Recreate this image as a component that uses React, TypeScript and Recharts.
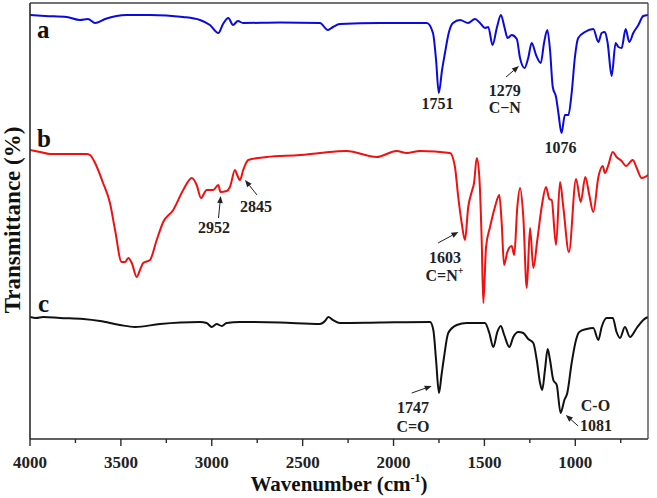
import React from 'react';
import { LineChart, Line, XAxis, YAxis, ReferenceDot, ReferenceLine } from 'recharts';

// wavenumber (cm-1), offset transmittance (arbitrary units)
const seriesA: [number, number][] = [
  [4000,424],[3917,423],[3798,422],[3725,419],[3681,420],[3642,416],[3587,420],[3468,424],[3340,424],[3158,422],[3065,419],[3010,414],[2964,406],[2938,415],[2909,421],[2883,414],[2856,418],[2828,416],[2625,416.5],[2405,416],[2361,409],[2333,412],[2295,415],[2074,416],[1817,416],[1783,406],[1766,379],[1751,346],[1733,369],[1717,386],[1695,407],[1673,416],[1634,419],[1590,416],[1552,420],[1524,416],[1497,411],[1479,412],[1455,394],[1432,411],[1409,424],[1390,412],[1372,401],[1350,404],[1322,400],[1304,381],[1279,371],[1259,381],[1240,396],[1216,384],[1190,376],[1172,396],[1154,409],[1139,389],[1124,352],[1106,342],[1093,326],[1076,306],[1057,324],[1038,324],[1020,346],[1002,382],[984,401],[947,407],[901,410],[873,397],[855,406],[837,407],[822,396],[800,363],[778,396],[763,392],[745,391],[723,410],[703,397],[681,406],[653,414],[626,423],[600,424]
];
const seriesB: [number, number][] = [
  [4000,289],[3945,287],[3890,285],[3780,285],[3688,285],[3670,284],[3642,276],[3598,256],[3560,236],[3532,209],[3496,177],[3477,177],[3459,181],[3440,176],[3413,162],[3395,169],[3377,176],[3340,179],[3303,199],[3267,217],[3212,229],[3157,249],[3110,261],[3083,254],[3059,241],[3028,249],[2992,249],[2964,254],[2952,247],[2918,248],[2900,252],[2872,269],[2860,264],[2845,259],[2827,269],[2799,279],[2698,282],[2515,284],[2405,286],[2258,288],[2093,282],[1983,288],[1928,286],[1855,288],[1689,286],[1662,272],[1644,242],[1625,216],[1607,199],[1589,232],[1570,247],[1557,256],[1542,281],[1528,262],[1515,199],[1506,136],[1491,192],[1469,212],[1442,232],[1418,244],[1405,216],[1392,174],[1374,187],[1350,193],[1336,184],[1319,232],[1304,251],[1286,222],[1267,151],[1249,211],[1231,171],[1209,199],[1185,232],[1161,252],[1143,240],[1130,239],[1106,194],[1084,257],[1066,232],[1035,187],[996,260],[970,237],[945,262],[923,244],[901,227],[873,262],[849,273],[837,266],[818,274],[794,287],[773,282],[745,278],[721,273],[684,279],[662,271],[635,261],[607,263],[600,264]
];
const seriesC: [number, number][] = [
  [4000,122],[3967,121],[3927,122],[3835,121],[3707,120],[3615,118],[3505,114],[3422,112],[3285,115],[3065,117],[3028,116],[3000,112],[2973,115],[2945,113],[2918,116],[2845,117],[2625,116.5],[2405,115],[2377,118],[2359,122],[2333,119],[2295,116],[2074,116.5],[1799,117],[1781,109],[1766,79],[1750,46],[1736,64],[1722,82],[1699,106],[1652,114],[1597,116],[1497,116],[1473,106],[1451,92],[1429,107],[1410,113],[1391,104],[1363,92],[1341,102],[1313,107],[1286,106],[1259,100],[1231,96],[1212,79],[1194,56],[1182,49],[1167,69],[1152,90],[1139,79],[1121,59],[1102,54],[1081,26],[1060,39],[1044,46],[1020,76],[996,99],[978,107],[937,110],[901,111],[873,99],[855,112],[827,121],[794,121],[773,107],[754,101],[727,112],[699,102],[662,111],[626,119],[600,122]
];

const xTicks = [4000, 3750, 3500, 3250, 3000, 2750, 2500, 2250, 2000, 1750, 1500, 1250, 1000, 750];
const xLabelTicks = [4000, 3500, 3000, 2500, 2000, 1500, 1000];

// annotations: [wavenumber, value, text, superscript]
const curveLetters: [number, number, string][] = [
  [3961, 401, 'a'],
  [3961, 292, 'b'],
  [3956, 127, 'c'],
];
const peakLabels: [number, number, string, string][] = [
  [1758, 330, '1751', ''],
  [1388, 343, '1279', ''],
  [1388, 326, 'C\u2212N', ''],
  [1081, 286, '1076', ''],
  [2988, 206, '2952', ''],
  [2757, 227, '2845', ''],
  [1717, 176, '1603', ''],
  [1720, 158, 'C=N', '+'],
  [1893, 26, '1747', ''],
  [1893, 7, 'C=O', ''],
  [889, 28, 'C-O', ''],
  [886, 8, '1081', ''],
];
const arrows: [number, number, number, number][] = [
  [1381, 362, 1310, 373],
  [2963, 221, 2951, 243],
  [2751, 244, 2817, 259],
  [1755, 196, 1643, 207],
  [1900, 46, 1790, 53],
  [984, 13, 1052, 24],
];

const toPts = (arr: [number, number][]) => arr.map(([w, t]) => ({ w, t }));
const FONT = "'Liberation Serif', 'Times New Roman', serif";
const AXIS = '#2b2b2b';

const XTick = (props: any) => {
  const { x, y, payload } = props;
  const major = xLabelTicks.includes(payload.value);
  return (
    <g>
      <line x1={x} y1={y} x2={x} y2={y + (major ? 7 : 4)} stroke={AXIS} strokeWidth={1.4} />
      {major && (
        <text x={x} y={y + 29} textAnchor="middle" fontFamily={FONT} fontWeight="bold" fontSize={17} fill="#222">
          {payload.value}
        </text>
      )}
    </g>
  );
};

const ArrowShape = (p: any) => {
  const { x1, y1, x2, y2 } = p;
  if ([x1, y1, x2, y2].some((v) => v == null || isNaN(v))) return null;
  const ang = Math.atan2(y2 - y1, x2 - x1);
  const L = 7, W = 2.8;
  const bx = x2 - L * Math.cos(ang), by = y2 - L * Math.sin(ang);
  const px = -Math.sin(ang) * W, py = Math.cos(ang) * W;
  return (
    <g>
      <line x1={x1} y1={y1} x2={bx} y2={by} stroke="#222" strokeWidth={1} />
      <polygon points={`${x2},${y2} ${bx + px},${by + py} ${bx - px},${by - py}`} fill="#222" />
    </g>
  );
};

export default function App() {
  return (
    <div style={{ position: 'absolute', left: 0, top: 0, width: 657, height: 498, background: '#fff' }}>
      <LineChart width={657} height={498} margin={{ top: 0, right: 0, bottom: 0, left: 0 }}>
        <XAxis xAxisId="b" type="number" dataKey="w" domain={[600, 4000]} reversed ticks={xTicks} interval={0}
          height={59} tickSize={0} tickMargin={0} tickLine={false} tick={<XTick />} allowDataOverflow
          axisLine={{ stroke: AXIS, strokeWidth: 1.6 }} />
        <XAxis xAxisId="t" orientation="top" type="number" dataKey="w" domain={[600, 4000]} reversed height={3}
          tick={false} tickLine={false} allowDataOverflow axisLine={{ stroke: '#444', strokeWidth: 1.3 }} />
        <YAxis yAxisId="l" type="number" domain={[0, 436]} width={30} tick={false} tickLine={false} allowDataOverflow
          axisLine={{ stroke: AXIS, strokeWidth: 1.6 }} />
        <YAxis yAxisId="r" orientation="right" type="number" domain={[0, 436]} width={9} tick={false} tickLine={false}
          allowDataOverflow axisLine={{ stroke: '#444', strokeWidth: 1.3 }} />
        <Line xAxisId="b" yAxisId="l" data={toPts(seriesA)} dataKey="t" type="monotone" stroke="#0a0ae0" strokeWidth={2} dot={false} isAnimationActive={false} />
        <Line xAxisId="b" yAxisId="l" data={toPts(seriesB)} dataKey="t" type="monotone" stroke="#f01010" strokeWidth={2} dot={false} isAnimationActive={false} />
        <Line xAxisId="b" yAxisId="l" data={toPts(seriesC)} dataKey="t" type="monotone" stroke="#111111" strokeWidth={2} dot={false} isAnimationActive={false} />
        {arrows.map(([w1, t1, w2, t2], i) => (
          <ReferenceLine key={'ar' + i} xAxisId="b" yAxisId="l" segment={[{ x: w1, y: t1 }, { x: w2, y: t2 }]}
            shape={ArrowShape} ifOverflow="visible" />
        ))}
        {curveLetters.map(([w, t, s], i) => (
          <ReferenceDot key={'cl' + i} xAxisId="b" yAxisId="l" x={w} y={t} r={0} ifOverflow="visible"
            shape={(p: any) => (
              <text x={p.cx} y={p.cy} textAnchor="start" fontFamily={FONT} fontWeight="bold" fontSize={25} fill="#111">{s}</text>
            )} />
        ))}
        {peakLabels.map(([w, t, s, sup], i) => (
          <ReferenceDot key={'pl' + i} xAxisId="b" yAxisId="l" x={w} y={t} r={0} ifOverflow="visible"
            shape={(p: any) => (
              <text x={p.cx} y={p.cy} textAnchor="middle" fontFamily={FONT} fontWeight="bold" fontSize={16} fill="#222">
                {s}
                {sup ? <tspan dy={-7} fontSize={10}>{sup}</tspan> : null}
              </text>
            )} />
        ))}
        <text x={339} y={491} textAnchor="middle" fontFamily={FONT} fontWeight="bold" fontSize={21} fill="#111">
          Wavenumber (cm<tspan dy={-9} fontSize={12}>-1</tspan><tspan dy={9}>)</tspan>
        </text>
        <text x={20} y={220} transform="rotate(-90, 20, 220)" textAnchor="middle" fontFamily={FONT} fontWeight="bold" fontSize={23} fill="#111">
          Transmittance (%)
        </text>
      </LineChart>
    </div>
  );
}
